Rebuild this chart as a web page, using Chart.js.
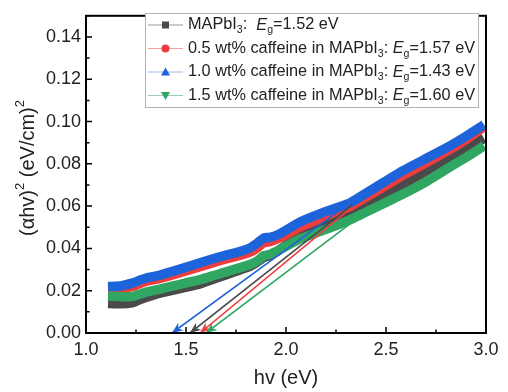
<!DOCTYPE html>
<html>
<head>
<meta charset="utf-8">
<script src="https://cdn.jsdelivr.net/npm/chart.js@4.4.0/dist/chart.umd.min.js"></script>
<style>
  html, body { margin: 0; padding: 0; background: #fff; }
</style>
</head>
<body>
<canvas id="c" width="508" height="392"></canvas>
<script>
// photon energy (eV) sampled along the curves
var hv = [1.11, 1.17, 1.23, 1.27, 1.30, 1.37, 1.47, 1.57, 1.66, 1.75, 1.82, 1.86, 1.89, 1.92, 1.97, 2.07, 2.20, 2.32, 2.45, 2.57, 2.70, 2.82, 2.90, 2.99];

// (alpha hv)^2 values
var mapbi3    = [0.0140, 0.0138, 0.0142, 0.0158, 0.0168, 0.0188, 0.0210, 0.0232, 0.0262, 0.0292, 0.0315, 0.0338, 0.0358, 0.0366, 0.0395, 0.0460, 0.0515, 0.0560, 0.0630, 0.0695, 0.0765, 0.0835, 0.0875, 0.0920];
var caf05     = [0.0205, 0.0207, 0.0220, 0.0234, 0.0244, 0.0258, 0.0285, 0.0313, 0.0340, 0.0362, 0.0382, 0.0405, 0.0428, 0.0432, 0.0450, 0.0500, 0.0553, 0.0598, 0.0670, 0.0738, 0.0805, 0.0868, 0.0915, 0.0975];
var caf10     = [0.0220, 0.0222, 0.0236, 0.0250, 0.0260, 0.0274, 0.0302, 0.0332, 0.0358, 0.0380, 0.0402, 0.0428, 0.0450, 0.0452, 0.0470, 0.0525, 0.0575, 0.0615, 0.0690, 0.0760, 0.0825, 0.0885, 0.0930, 0.0985];
var caf15     = [0.0175, 0.0172, 0.0172, 0.0184, 0.0193, 0.0208, 0.0230, 0.0252, 0.0278, 0.0303, 0.0324, 0.0343, 0.0366, 0.0372, 0.0395, 0.0445, 0.0490, 0.0535, 0.0595, 0.0650, 0.0715, 0.0785, 0.0830, 0.0885];

// linear fits (tangent lines) : [x at axis, x at top], [y at axis, y at top]
var fitMapX = [1.52, 2.33], fitMapY = [0, 0.0605];
var fit05X  = [1.57, 2.33], fit05Y  = [0, 0.0595];
var fit10X  = [1.43, 2.27], fit10Y  = [0, 0.0581];
var fit15X  = [1.60, 2.32], fit15Y  = [0, 0.0516];

var xTicks = [1.0, 1.5, 2.0, 2.5, 3.0];
var yTicks = [0.00, 0.02, 0.04, 0.06, 0.08, 0.10, 0.12, 0.14];

var names = ['MAPbI|3|:  ', '0.5 wt% caffeine in MAPbI|3|: ', '1.0 wt% caffeine in MAPbI|3|: ', '1.5 wt% caffeine in MAPbI|3|: '];
var gaps = ['1.52', '1.57', '1.43', '1.60'];

var colors = ['#4a4a4a', '#ef3d3d', '#1d63da', '#2fa763'];
var lightColors = ['#9a9a9a', '#f7a0a0', '#9dbcef', '#98d3b0'];
var markers = ['rect', 'circle', 'triangle', 'triangleDown'];

var FONT = "'Liberation Sans', Arial, sans-serif";

function pts(xs, ys) {
    return xs.map(function (x, i) { return { x: x, y: ys[i] }; });
}

var bandSets = [mapbi3, caf05, caf10, caf15];
var fitSets = [[fitMapX, fitMapY], [fit05X, fit05Y], [fit10X, fit10Y], [fit15X, fit15Y]];

var datasets = [];
bandSets.forEach(function (ys, i) {
    datasets.push({ data: pts(hv, ys), borderColor: colors[i], borderWidth: 9.5, pointRadius: 0,
        showLine: true, tension: 0.1, borderJoinStyle: 'round', order: 10 - i });
});
fitSets.forEach(function (f, i) {
    datasets.push({ data: pts(f[0], f[1]), borderColor: colors[i], borderWidth: 1.6, pointRadius: 0,
        showLine: true, order: 1, isFit: true });
});

// draws a run of text segments, some italic / subscript / superscript
function drawRich(ctx, segs, x, y, size, align) {
    var total = 0;
    segs.forEach(function (s) {
        ctx.font = (s.it ? 'italic ' : '') + (s.sub || s.sup ? size * 0.65 : size) + 'px ' + FONT;
        s.w = ctx.measureText(s.t).width;
        total += s.w;
    });
    var cx = align === 'center' ? x - total / 2 : x;
    segs.forEach(function (s) {
        ctx.font = (s.it ? 'italic ' : '') + (s.sub || s.sup ? size * 0.65 : size) + 'px ' + FONT;
        var dy = s.sub ? size * 0.32 : (s.sup ? -size * 0.38 : 0);
        ctx.fillText(s.t, cx, y + dy);
        cx += s.w;
    });
}

function legendSegs(i) {
    var p = names[i].split('|');
    return [{ t: p[0] }, { t: p[1], sub: true }, { t: p[2] }, { t: 'E', it: true }, { t: 'g', sub: true }, { t: '=' + gaps[i] + ' eV' }];
}

function drawMarker(ctx, type, x, y, r, color) {
    ctx.fillStyle = color;
    ctx.beginPath();
    if (type === 'rect') ctx.rect(x - r, y - r, 2 * r, 2 * r);
    else if (type === 'circle') ctx.arc(x, y, r + 0.5, 0, Math.PI * 2);
    else if (type === 'triangle') { ctx.moveTo(x, y - r - 1); ctx.lineTo(x + r + 1, y + r); ctx.lineTo(x - r - 1, y + r); }
    else { ctx.moveTo(x, y + r + 1); ctx.lineTo(x + r + 1, y - r); ctx.lineTo(x - r - 1, y - r); }
    ctx.closePath();
    ctx.fill();
}

var decor = {
    id: 'decor',
    afterDatasetsDraw: function (chart) {
        var ctx = chart.ctx;
        chart.data.datasets.forEach(function (ds, di) {
            if (!ds.isFit) return;
            var el = chart.getDatasetMeta(di).data;
            var p0 = el[0], p1 = el[1];
            var a = Math.atan2(p0.y - p1.y, p0.x - p1.x);
            var L = 11, W = 4.5;
            ctx.save();
            ctx.fillStyle = ds.borderColor;
            ctx.beginPath();
            ctx.moveTo(p0.x, p0.y);
            ctx.lineTo(p0.x - L * Math.cos(a) + W * Math.sin(a), p0.y - L * Math.sin(a) - W * Math.cos(a));
            ctx.lineTo(p0.x - L * 0.7 * Math.cos(a), p0.y - L * 0.7 * Math.sin(a));
            ctx.lineTo(p0.x - L * Math.cos(a) - W * Math.sin(a), p0.y - L * Math.sin(a) + W * Math.cos(a));
            ctx.closePath();
            ctx.fill();
            ctx.restore();
        });
    },
    afterDraw: function (chart) {
        var ctx = chart.ctx, ca = chart.chartArea;
        var xs = chart.scales.x, ys = chart.scales.y;
        ctx.save();
        // frame
        ctx.strokeStyle = '#000';
        ctx.lineWidth = 2;
        ctx.strokeRect(ca.left, ca.top, ca.right - ca.left, ca.bottom - ca.top);
        // inward ticks
        ctx.lineWidth = 1.5;
        ctx.beginPath();
        xTicks.forEach(function (v, i) {
            var px = xs.getPixelForValue(v);
            ctx.moveTo(px, ca.bottom); ctx.lineTo(px, ca.bottom - 6);
            if (i < xTicks.length - 1) {
                var pm = xs.getPixelForValue(v + 0.25);
                ctx.moveTo(pm, ca.bottom); ctx.lineTo(pm, ca.bottom - 3.5);
            }
        });
        yTicks.forEach(function (v) {
            var py = ys.getPixelForValue(v);
            ctx.moveTo(ca.left, py); ctx.lineTo(ca.left + 6, py);
            var pm = ys.getPixelForValue(v + 0.01);
            ctx.moveTo(ca.left, pm); ctx.lineTo(ca.left + 3.5, pm);
        });
        ctx.stroke();

        // axis titles
        ctx.fillStyle = '#222';
        ctx.textBaseline = 'middle';
        ctx.textAlign = 'left';
        drawRich(ctx, [{ t: 'hv (eV)' }], (ca.left + ca.right) / 2, 378, 20, 'center');
        ctx.save();
        ctx.translate(28, 168);
        ctx.rotate(-Math.PI / 2);
        drawRich(ctx, [{ t: '(\u03b1hv)' }, { t: '2', sup: true }, { t: ' (eV/cm)' }, { t: '2', sup: true }], 0, 0, 20, 'center');
        ctx.restore();

        // legend
        var lx = 145, ly = 13, lw = 333, lh = 94;
        ctx.fillStyle = '#fff';
        ctx.fillRect(lx, ly, lw, lh);
        ctx.strokeStyle = '#b4b4b4';
        ctx.lineWidth = 1;
        ctx.strokeRect(lx + 0.5, ly + 0.5, lw, lh);
        for (var i = 0; i < 4; i++) {
            var ry = 25 + i * 23.5;
            ctx.strokeStyle = lightColors[i];
            ctx.lineWidth = 1.2;
            ctx.beginPath();
            ctx.moveTo(148, ry); ctx.lineTo(183, ry);
            ctx.stroke();
            drawMarker(ctx, markers[i], 165.5, ry, 3.5, colors[i]);
            ctx.fillStyle = '#222';
            drawRich(ctx, legendSegs(i), 188, ry, 16.3, 'left');
        }
        ctx.restore();
    }
};

new Chart(document.getElementById('c'), {
    type: 'scatter',
    data: { datasets: datasets },
    options: {
        responsive: false,
        animation: false,
        layout: { padding: { left: 0, top: 11, right: 22, bottom: 0 } },
        plugins: { legend: { display: false }, tooltip: { enabled: false } },
        scales: {
            x: {
                type: 'linear', min: 1.0, max: 3.0,
                afterBuildTicks: function (s) { s.ticks = xTicks.map(function (v) { return { value: v }; }); },
                afterFit: function (s) { s.height = 59; },
                grid: { display: false, drawTicks: false },
                border: { display: false },
                ticks: { padding: 6, color: '#222', font: { family: FONT, size: 18 },
                    callback: function (v) { return v.toFixed(1); } }
            },
            y: {
                type: 'linear', min: 0, max: 0.15,
                afterBuildTicks: function (s) { s.ticks = yTicks.map(function (v) { return { value: v }; }); },
                afterFit: function (s) { s.width = 86; },
                grid: { display: false, drawTicks: false },
                border: { display: false },
                ticks: { padding: 5, color: '#222', font: { family: FONT, size: 18 },
                    callback: function (v) { return v.toFixed(2); } }
            }
        }
    },
    plugins: [decor]
});
</script>
</body>
</html>
